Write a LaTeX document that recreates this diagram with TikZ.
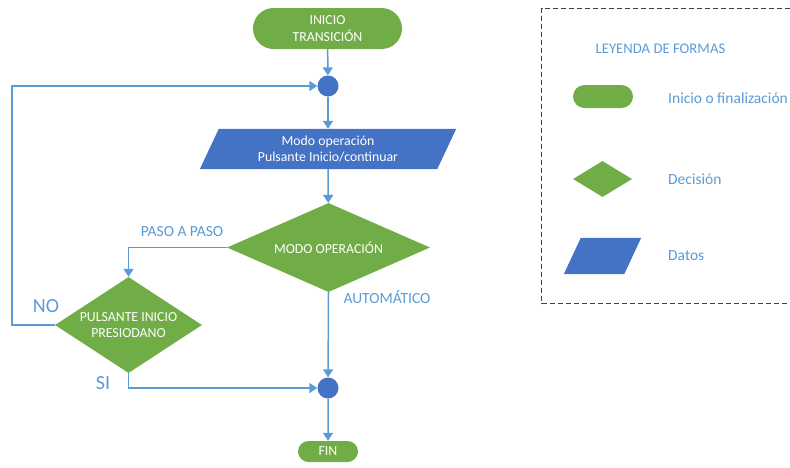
\documentclass[tikz,border=0pt]{standalone}
\usepackage{fontspec}
\setmainfont{Carlito}
\usetikzlibrary{shapes.geometric,shapes.misc,arrows.meta,backgrounds}

\definecolor{termgreen}{HTML}{70AD47}
\definecolor{datablue}{HTML}{4472C4}
\definecolor{linkblue}{HTML}{5B9BD5}

% fill a parallelogram behind a data node, leaning right by #2
\newcommand{\dataslab}[2]{%
  \begin{scope}[on background layer]
    \fill[datablue] ([xshift=-#2]#1.south west) -- ([xshift=-#2]#1.south east)
      -- ([xshift=#2]#1.north east) -- ([xshift=#2]#1.north west) -- cycle;
  \end{scope}}

\begin{document}
\begin{tikzpicture}[x=1pt,y=-1pt,
  shapetext/.style={text=white, inner sep=0pt, align=center,
    font=\fontsize{13.8}{16.5}\selectfont},
  terminal/.style={shapetext, rounded rectangle, fill=termgreen},
  decision/.style={shapetext, diamond, fill=termgreen},
  datain/.style={shapetext, rectangle},
  junction/.style={circle, fill=datablue, minimum size=21pt, inner sep=0pt},
  flow/.style={draw=linkblue, line width=1.5pt,
    -{Triangle[length=8pt,width=10pt]}},
  lbl/.style={text=linkblue, inner sep=0pt, font=\fontsize{15.5}{18}\selectfont},
  biglbl/.style={text=linkblue, inner sep=0pt, font=\fontsize{20}{24}\selectfont},
]
\useasboundingbox (0,0) rectangle (790,467);

% main flow
\node[terminal, minimum width=149pt, minimum height=41pt] (start) at (327.5,28.5) {INICIO\\TRANSICIÓN};
\node[junction] (j1) at (328,86) {};
\node[datain, minimum width=237pt, minimum height=40pt] (mode) at (328,149) {Modo operación\\Pulsante Inicio/continuar};
\dataslab{mode}{9.5pt}
\node[decision, shape aspect=2.28, minimum width=203pt, minimum height=89pt] (modesel) at (328.5,247.5) {MODO OPERACIÓN};
\node[decision, shape aspect=1.53, minimum width=147pt, minimum height=96pt] (press) at (128.5,325) {PULSANTE INICIO\\PRESIODANO};
\node[junction] (j2) at (328,388) {};
\node[terminal, minimum width=60pt, minimum height=21pt] (finish) at (328,451.5) {FIN};
\coordinate (back) at (12,325);

\draw[flow] (start) -- (j1);
\draw[flow] (j1) -- (mode);
\draw[flow] (mode) -- (modesel);
\draw[flow] (modesel.west) -| (press.north);
\draw[flow] (modesel.south) -- (j2);
\draw[flow] (press.south) |- (j2);
\draw[flow] (press.west) -- (back) |- (j1);
\draw[flow] (j2) -- (finish);

% branch labels
\node[lbl] (lpaso) at (182,232) {PASO A PASO};
\node[lbl] (lauto) at (387,297) {AUTOMÁTICO};
\node[biglbl] (lno) at (46,306) {NO};
\node[biglbl] (lsi) at (103,383) {SI};

% legend
\draw[dash pattern=on 5pt off 3pt, line width=0.9pt, draw=black!75]
  (790,8) -- (541.5,8) -- (541.5,303.5) -- (790,303.5);
\node[lbl, font=\fontsize{14.7}{17}\selectfont] (legtitle) at (660.5,49) {LEYENDA DE FORMAS};
\node[terminal, minimum width=60pt, minimum height=23pt] (legterm) at (603,96.5) {};
\node[lbl, anchor=west] (legtermtxt) at (668,98) {Inicio o finalización};
\node[decision, minimum width=59pt, minimum height=36pt] (legdec) at (602.5,179) {};
\node[lbl, anchor=west] (legdectxt) at (668,179) {Decisión};
\node[datain, minimum width=60pt, minimum height=36pt] (legdata) at (602.5,256) {};
\dataslab{legdata}{8.5pt}
\node[lbl, anchor=west] (legdatatxt) at (668,256) {Datos};
\end{tikzpicture}
\end{document}
